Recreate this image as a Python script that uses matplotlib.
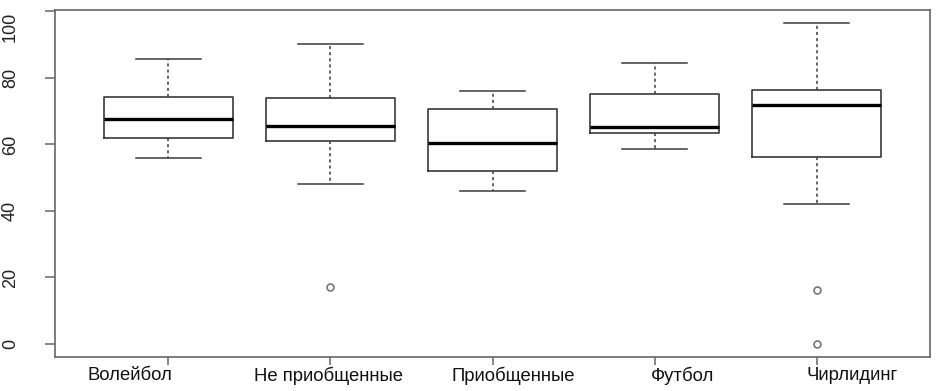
import numpy as np
import matplotlib
matplotlib.use("Agg")
from matplotlib import pyplot as plt
from matplotlib import transforms

plt.rcParams['font.family'] = ['Liberation Sans', 'DejaVu Sans']

# groups and five-number summaries
groups = ['Волейбол', 'Не приобщенные', 'Приобщенные', 'Футбол', 'Чирлидинг']
whislo = [56.0, 48.0, 45.9, 58.5, 42.0]
q1 = [62.0, 61.0, 51.9, 63.3, 56.3]
med = [67.5, 65.4, 60.5, 65.1, 71.7]
q3 = [74.3, 74.0, 70.5, 75.1, 76.3]
whishi = [85.7, 90.1, 76.1, 84.5, 96.5]
outliers = [[], [17.0], [], [], [16.3, 0.0]]

# label shift (the category names are not centred under the ticks)
label_shift = [-0.235, -0.015, 0.125, 0.175, 0.22]

stats = []
for i, g in enumerate(groups):
    stats.append(dict(label=g, whislo=whislo[i], q1=q1[i], med=med[i],
                      q3=q3[i], whishi=whishi[i], fliers=outliers[i]))

fig = plt.figure(figsize=(9.42, 3.91), dpi=100)
ax = fig.add_axes([55/942, 34/391, 875/942, 347/391])

pos = np.arange(1, len(groups) + 1)
edge = '#3a3a3a'
ax.bxp(stats, positions=pos, widths=0.8,
       boxprops=dict(color=edge, linewidth=1.2),
       medianprops=dict(color='black', linewidth=2.4),
       whiskerprops=dict(color=edge, linewidth=1.1, linestyle=(0, (2, 2))),
       capprops=dict(color=edge, linewidth=1.1),
       capwidths=0.4,
       flierprops=dict(marker='o', markerfacecolor='none',
                       markeredgecolor='#777777', markersize=5,
                       markeredgewidth=1.2))

ax.set_xlim(0.3, 5.7)
ax.set_ylim(-3.9, 100.4)

for s in ax.spines.values():
    s.set_color('#666666')
    s.set_linewidth(1.2)

ax.set_yticks([0, 20, 40, 60, 80, 100])
ax.set_yticklabels(['0', '20', '40', '60', '80', '100'], rotation=90,
                   va='center', fontsize=13)
ax.get_yticklabels()[-1].set_va('top')
ax.tick_params(axis='y', length=7, width=1.1, color='#666666', pad=19,
               labelcolor='#222222')

ax.set_xticks(pos)
ax.set_xticklabels([''] * len(groups))
ax.tick_params(axis='x', length=6, width=1.1, color='#666666')

trans = transforms.blended_transform_factory(ax.transData, ax.transAxes)
for i, g in enumerate(groups):
    ax.text(pos[i] + label_shift[i], -0.028, g, transform=trans,
            ha='center', va='top', fontsize=13.3, color='#111111')

fig.savefig('out.png', dpi=100)
